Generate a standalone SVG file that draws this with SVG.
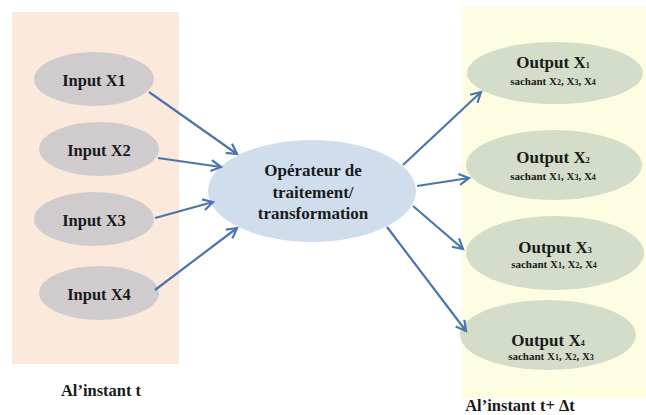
<svg xmlns="http://www.w3.org/2000/svg" width="646" height="415" viewBox="0 0 646 415">
<style>
text{font-family:"Liberation Serif","Times New Roman",serif;font-weight:bold;fill:#1a1a1a;text-anchor:middle}
.in{fill:#D0CCCE}
.out{fill:#D3DDC9}
.op{fill:#D0DDEC}
.t16{font-size:16.5px}
.t17{font-size:17px}
.sub{font-size:8px}
.s11{font-size:11px}
.conn line{stroke:#4A76AE;stroke-width:2.2;marker-end:url(#ah)}
</style>
<defs>
<marker id="ah" viewBox="0 0 12 12" refX="10" refY="6" markerWidth="6" markerHeight="6" orient="auto" markerUnits="strokeWidth">
<path d="M1,1 L10,6 L1,11" fill="none" stroke="#4A76AE" stroke-width="2"/>
</marker>
</defs>
<rect x="12" y="12" width="167" height="352" fill="#FBE9DC"/>
<rect x="462" y="7" width="184" height="391" fill="#FFFDE1"/>
<g id="input1"><ellipse class="in" cx="94" cy="79" rx="60" ry="27"/><text class="t16" x="94" y="86">Input X1</text></g>
<g id="input2"><ellipse class="in" cx="99" cy="149" rx="60" ry="27"/><text class="t16" x="99" y="156">Input X2</text></g>
<g id="input3"><ellipse class="in" cx="94" cy="219" rx="60" ry="27"/><text class="t16" x="94" y="226">Input X3</text></g>
<g id="input4"><ellipse class="in" cx="99" cy="293" rx="60" ry="27"/><text class="t16" x="99" y="300">Input X4</text></g>
<g id="operateur"><ellipse class="op" cx="312" cy="191" rx="104" ry="51"/>
<text class="t17" x="313" y="176">Opérateur de</text>
<text class="t17" x="313" y="198">traitement/</text>
<text class="t17" x="313" y="219">transformation</text></g>
<g id="output1"><ellipse class="out" cx="555" cy="73" rx="88" ry="31"/>
<text class="t17" x="553" y="68">Output X<tspan class="sub">1</tspan></text>
<text class="s11" x="553" y="85">sachant X<tspan class="sub">2</tspan>, X<tspan class="sub">3</tspan>, X<tspan class="sub">4</tspan></text></g>
<g id="output2"><ellipse class="out" cx="554" cy="165" rx="88" ry="35"/>
<text class="t17" x="553" y="163">Output X<tspan class="sub">2</tspan></text>
<text class="s11" x="553" y="180">sachant X<tspan class="sub">1</tspan>, X<tspan class="sub">3</tspan>, X<tspan class="sub">4</tspan></text></g>
<g id="output3"><ellipse class="out" cx="555" cy="253" rx="89" ry="37"/>
<text class="t17" x="555" y="253">Output X<tspan class="sub">3</tspan></text>
<text class="s11" x="554" y="268">sachant X<tspan class="sub">1</tspan>, X<tspan class="sub">2</tspan>, X<tspan class="sub">4</tspan></text></g>
<g id="output4"><ellipse class="out" cx="548" cy="335" rx="88" ry="35"/>
<text class="t17" x="548" y="346">Output X<tspan class="sub">4</tspan></text>
<text class="s11" x="551" y="360">sachant X<tspan class="sub">1</tspan>, X<tspan class="sub">2</tspan>, X<tspan class="sub">3</tspan></text></g>
<g id="connectors" class="conn">
<line x1="149" y1="92" x2="237" y2="154"/>
<line x1="158" y1="158" x2="221" y2="167"/>
<line x1="155" y1="218" x2="213" y2="202"/>
<line x1="155" y1="290" x2="237" y2="228"/>
<line x1="403" y1="165" x2="481" y2="92"/>
<line x1="417" y1="186" x2="469" y2="178"/>
<line x1="413" y1="206" x2="463" y2="249"/>
<line x1="387" y1="227" x2="466" y2="331"/>
</g>
<text class="t16" x="101" y="396">Al’instant t</text>
<text class="t16" x="520" y="411">Al’instant t+ Δt</text>
</svg>
